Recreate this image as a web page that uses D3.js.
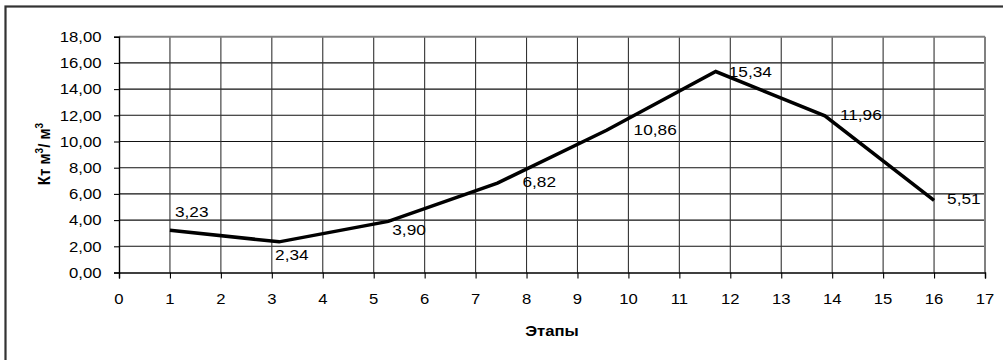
<!DOCTYPE html>
<html><head><meta charset="utf-8">
<script src="https://cdn.jsdelivr.net/npm/d3@7/dist/d3.min.js"></script>
<style>body{margin:0;background:#fff}svg{display:block}text{font-family:"Liberation Sans",Arial,sans-serif;fill:#000}</style>
</head><body><svg id="c" width="1003" height="360"></svg>
<script>
const stages = [1, 3.142857, 5.285714, 7.428571, 9.571429, 11.714286, 13.857143, 16];
const values = [3.23, 2.34, 3.90, 6.82, 10.86, 15.34, 11.96, 5.51];
const xTicks = d3.range(0, 18, 1);
const yTicks = d3.range(0, 20, 2);
const labelOffsets = [[5,-13],[-4,18],[4,14],[25,4],[27,5],[13,5],[15,4],[13,4]];

const SX = 1.15;
const svg = d3.select('#c');
const x = d3.scaleLinear().domain([0,17]).range([119,985]);
const y = d3.scaleLinear().domain([0,18]).range([272.5,36.7]);
const fmt = v => v.toFixed(2).replace('.', ',');

// outer frame
svg.append('rect').attr('x',5.5).attr('y',6.5).attr('width',1010).attr('height',400)
  .attr('fill','none').attr('stroke','#333').attr('stroke-width',2.2);

// grid
const g = svg.append('g');
g.selectAll('.hg').data(yTicks.filter(d=>d>0&&d<18)).join('line')
  .attr('x1',x(0)).attr('x2',x(17)).attr('y1',d=>y(d)).attr('y2',d=>y(d))
  .attr('stroke','#111').attr('stroke-width',1.1);
g.selectAll('.vg').data(xTicks.filter(d=>d>0&&d<17)).join('line')
  .attr('y1',y(0)).attr('y2',y(18)).attr('x1',d=>x(d)).attr('x2',d=>x(d))
  .attr('stroke','#333').attr('stroke-width',1.1);
// plot border top/right
g.append('line').attr('x1',x(0)).attr('x2',x(17)).attr('y1',y(18)).attr('y2',y(18)).attr('stroke','#808080').attr('stroke-width',2);
g.append('line').attr('x1',x(17)).attr('x2',x(17)).attr('y1',y(0)).attr('y2',y(18)).attr('stroke','#808080').attr('stroke-width',2);

// axes
const xa = svg.append('g').attr('transform',`translate(0,${y(0)})`)
  .call(d3.axisBottom(x).tickValues(xTicks).tickSize(6).tickFormat(''));
const ya = svg.append('g').attr('transform',`translate(${x(0)},0)`)
  .call(d3.axisLeft(y).tickValues(yTicks).tickSize(5).tickFormat(''));
[xa,ya].forEach(a=>{a.select('.domain').attr('stroke','#000').attr('stroke-width',1.4);a.selectAll('.tick line').attr('stroke','#000').attr('stroke-width',1.1);});

// tick labels
svg.append('g').selectAll('text').data(xTicks).join('text')
  .attr('transform',d=>`translate(${x(d)},303.5) scale(${SX},1)`)
  .attr('text-anchor','middle').attr('font-size',14.5).text(d=>d);
svg.append('g').selectAll('text').data(yTicks).join('text')
  .attr('transform',d=>`translate(101.5,${y(d)+5.2}) scale(${SX},1)`)
  .attr('text-anchor','end').attr('font-size',14.5).text(fmt);

// line
svg.append('path').datum(values.map((v,i)=>[stages[i],v]))
  .attr('d',d3.line().x(d=>x(d[0])).y(d=>y(d[1])))
  .attr('fill','none').attr('stroke','#000').attr('stroke-width',3.5).attr('stroke-linejoin','miter');

// data labels
svg.append('g').selectAll('text').data(values).join('text')
  .attr('transform',(d,i)=>`translate(${x(stages[i])+labelOffsets[i][0]},${y(d)+labelOffsets[i][1]}) scale(${SX},1)`)
  .attr('font-size',15).text(fmt);

// axis titles
svg.append('text').attr('transform',`translate(552,336) scale(${SX},1)`)
  .attr('text-anchor','middle').attr('font-size',14.5).attr('font-weight','bold').text('Этапы');
const yt = svg.append('text').attr('transform',`translate(50,154) scale(${SX},1) rotate(-90)`)
  .attr('text-anchor','middle').attr('font-size',15).attr('font-weight','bold');
yt.append('tspan').text('Кт м');
yt.append('tspan').attr('font-size',10).attr('dy',-6).text('3');
yt.append('tspan').attr('dy',6).text('/ м');
yt.append('tspan').attr('font-size',10).attr('dy',-6).text('3');
</script></body></html>
